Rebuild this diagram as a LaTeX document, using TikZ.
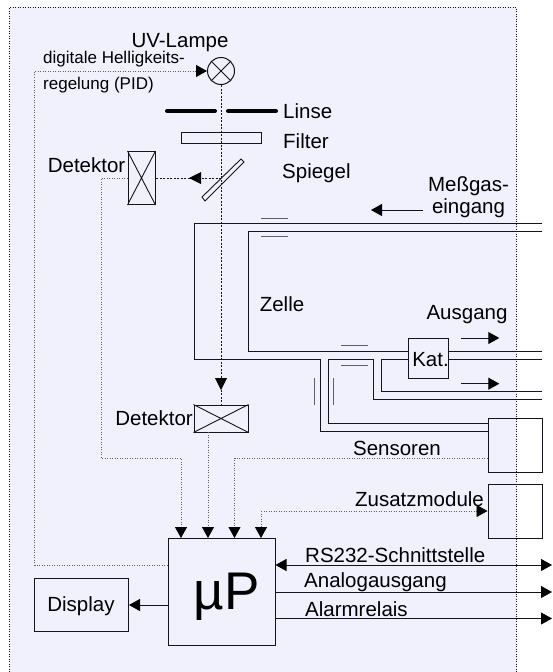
\documentclass[tikz,border=0pt]{standalone}
\usepackage{fontspec}
\setmainfont{Liberation Sans}
\usetikzlibrary{arrows.meta}
\definecolor{bgc}{RGB}{241,241,254}
\definecolor{ink}{RGB}{20,20,30}
\definecolor{soft}{RGB}{95,95,105}
\tikzset{
  pipe/.style={draw=ink,line width=0.9pt},
  part/.style={draw=ink,line width=0.9pt},
  sig/.style={draw=soft,line width=0.8pt,dash pattern=on 1pt off 1.5pt},
  sigb/.style={draw=ink,line width=1pt,dash pattern=on 2pt off 1.5pt},
  tri/.tip={Triangle[length=11pt,width=12pt,color=black,fill=black]},
  tip/.style={-{tri}},
  lbl/.style={font=\fontsize{20.5}{22}\selectfont,inner sep=0pt,text=black},
  sm/.style={font=\fontsize{17}{18}\selectfont,inner sep=0pt,text=black},
  tick/.style={draw=soft,line width=0.9pt},
  box/.style={draw=ink,line width=1pt,inner sep=0pt,fill=none}
}
\begin{document}
\begin{tikzpicture}[x=1pt,y=-1pt]
\useasboundingbox (0,0) rectangle (552,672);
\fill[white] (0,0) rectangle (552,672);
\fill[bgc] (9,7) rectangle (516.5,672);
\draw[draw=ink,line width=0.8pt,dash pattern=on 1pt off 1.5pt] (9.5,672) -- (9.5,7.5) -- (516.5,7.5) -- (516.5,672);
\node[box,circle,minimum size=27pt] (lamp) at (221,71) {};
\draw[part] (lamp.north west) -- (lamp.south east) (lamp.north east) -- (lamp.south west);
\node[lbl,anchor=center] (uv) at (180,43) {UV-Lampe};
\node[sm,anchor=west] (d1) at (43,59.5) {digitale Helligkeits-};
\node[sm,anchor=west] (d2) at (43,85.5) {regelung (PID)};
\coordinate (ll1) at (167,111); \coordinate (ll2) at (215,111);
\coordinate (lr1) at (228,111); \coordinate (lr2) at (276,111);
\draw[line width=4pt,line cap=round,black] (ll1) -- (ll2) (lr1) -- (lr2);
\node[lbl,anchor=west] (linse) at (283,111) {Linse};
\node[lbl,anchor=west] (filter) at (283,141) {Filter};
\node[lbl,anchor=west] (spiegel) at (282,173) {Spiegel};
\node[box,minimum width=80pt,minimum height=11pt] (filt) at (221,138) {};
\coordinate (m1) at (202,197); \coordinate (m2) at (205,201);
\coordinate (m3) at (244,162); \coordinate (m4) at (241,159);
\draw[part] (m1) -- (m2) -- (m3) -- (m4) -- cycle;
\node[box,minimum width=27pt,minimum height=53pt] (det1) at (141.5,178) {};
\draw[part] (det1.north west) -- (det1.south east) (det1.north east) -- (det1.south west);
\node[lbl,anchor=east] (dl1) at (125.5,165) {Detektor};
\node[box,minimum width=54pt,minimum height=27pt] (det2) at (221,418.5) {};
\draw[part] (det2.north west) -- (det2.south east) (det2.north east) -- (det2.south west);
\node[lbl,anchor=east] (dl2) at (193,418) {Detektor};
\node[box,minimum width=107pt,minimum height=107pt] (up) at (221.5,591.5) {};
\node[font=\fontsize{53}{55}\selectfont,inner sep=0pt] (uptxt) at (226.5,597) {µP};
\node[box,minimum width=94pt,minimum height=53.5pt] (disp) at (81.5,605) {};
\node[lbl] (disptxt) at (81,606) {Display};
\node[box,minimum width=54pt,minimum height=54pt] (sens) at (515,445) {};
\node[box,minimum width=54pt,minimum height=54pt] (zus) at (515,511) {};
\node[box,minimum width=40pt,minimum height=40pt] (kat) at (428,358) {};
\node[lbl] (kattxt) at (430.5,360) {Kat.};
\node[lbl] (zelle) at (282,304) {Zelle};
\node[lbl] (ausg) at (467,315) {Ausgang};
\node[lbl] (mess1) at (468.5,186) {Meßgas-};
\node[lbl] (mess2) at (468.5,208) {eingang};
\node[lbl] (sensl) at (397,448) {Sensoren};
\node[lbl] (zusl) at (419.5,499) {Zusatzmodule};
\node[lbl,anchor=west] (rs) at (305,555) {RS232-Schnittstelle};
\node[lbl,anchor=west] (ana) at (304,582) {Analogausgang};
\node[lbl,anchor=west] (ala) at (305,609) {Alarmrelais};
% pipes: outer and inner wall of the cell
\draw[pipe] (542,223.5) -- (194.3,223.5) -- (194.3,359.3) -- (320,359.3) -- (320,431.3) -- (sens.west |- 0,431.3);
\draw[pipe] (542,231) -- (248,231) -- (248,351.3) -- (kat.west |- 0,351.3);
\draw[pipe] (kat.east |- 0,351.3) -- (542,351.3);
\draw[pipe] (kat.east |- 0,359.3) -- (542,359.3);
\draw[pipe] (sens.west |- 0,423.3) -- (328,423.3) -- (328,359.3) -- (373.5,359.3) -- (373.5,399.3) -- (542,399.3);
\draw[pipe] (kat.west |- 0,359.3) -- (381.3,359.3) -- (381.3,391.5) -- (542,391.5);
\draw[tick] (261.3,218) -- (288,218) (261.3,236.7) -- (288,236.7);
\draw[tick] (341,345.7) -- (368,345.7) (341,365) -- (368,365);
\draw[tick] (314.3,378) -- (314.3,405) (333.3,378) -- (333.3,405);
% arrows
\coordinate (ma) at (423,210); \coordinate (mb) at (371,210);
\draw[pipe,tip] (ma) -- (mb);
\draw[pipe,tip] (461,338) -- (499.3,338);
\draw[pipe,tip] (461,383.7) -- (499.3,383.7);
\draw[pipe,tip] (up.west |- disp.east) -- (disp.east);
\draw[pipe,{tri}-{tri}] (up.east |- 0,565) -- (552,565);
\draw[pipe,tip] (up.east |- 0,592) -- (552,592);
\draw[pipe,tip] (up.east |- 0,618.5) -- (552,618.5);
% signals
\draw[sigb] (lamp.south) -- (det2.north);
\fill[black] (221,390) -- (215,378) -- (227,378) -- cycle;
\draw[sigb] (221,178) -- (det1.east |- 0,178);
\fill[black] (189,178) -- (201,172) -- (201,184) -- cycle;
\draw[sig,tip] (det1.west |- 0,178) -- (101,178) -- (101,458) -- (181,458) -- (181,538);
\draw[sig,tip] (208,432) -- (208,538);
\draw[sig,tip] (sens.west |- 0,458) -- (234.5,458) -- (234.5,538);
\draw[sig,tip] (261,511) -- (261,538);
\draw[sig,tip] (261,511) -- (zus.west |- 0,511);
\draw[sig,tip] (up.west |- 0,565) -- (34.5,565) -- (34.5,71) -- (lamp.west);
\end{tikzpicture}
\end{document}
